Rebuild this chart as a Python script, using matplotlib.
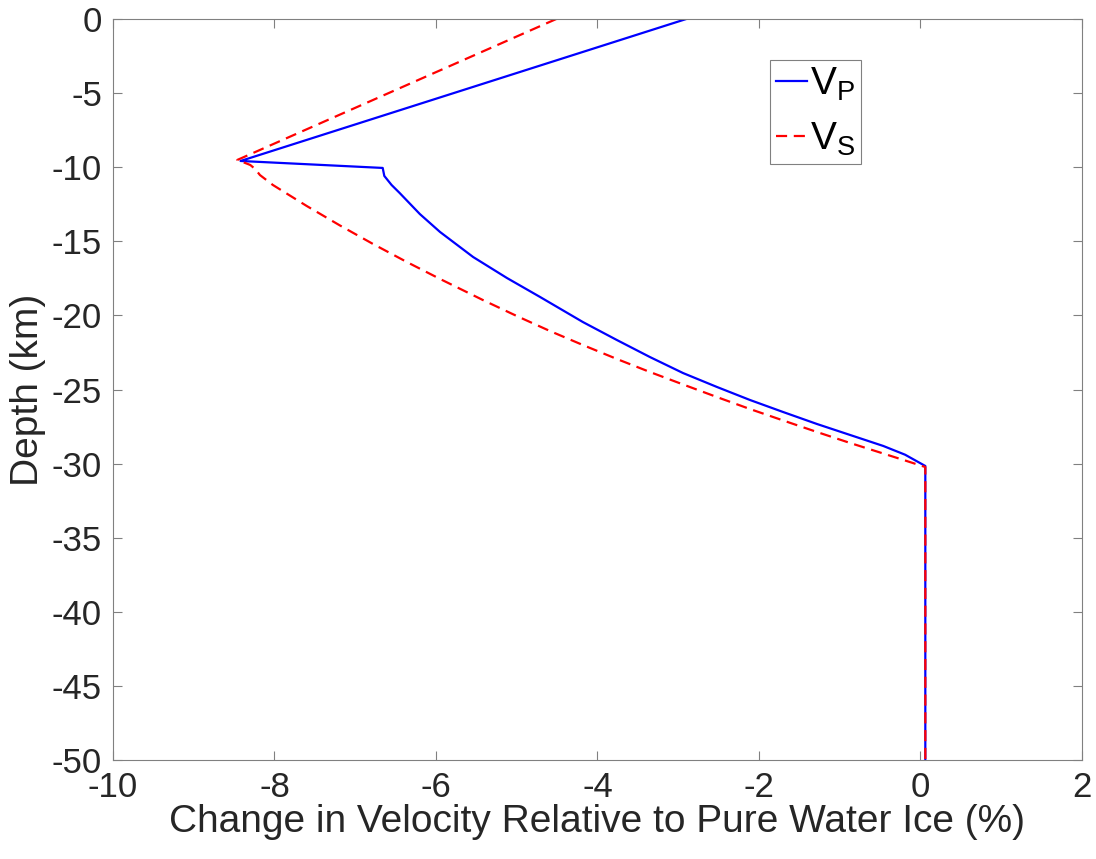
import numpy as np
import matplotlib.pyplot as plt

plt.rcParams['font.family'] = ['Liberation Sans', 'DejaVu Sans']
plt.rcParams['mathtext.fontset'] = 'custom'
plt.rcParams['mathtext.rm'] = 'Liberation Sans'
plt.rcParams['axes.unicode_minus'] = False

# Vp: change (%) vs depth (km)
vp_dv = [-2.90, -8.42, -6.66, -6.64, -6.55, -6.45, -6.20, -5.95, -5.54, -5.12,
         -4.71, -4.18, -3.76, -3.35, -2.94, -2.52, -2.11, -1.70, -1.28, -0.87,
         -0.46, -0.19, 0.06, 0.06]
vp_z = [0.0, -9.58, -10.05, -10.59, -11.20, -11.74, -13.16, -14.37, -16.06, -17.48,
        -18.76, -20.45, -21.66, -22.81, -23.89, -24.83, -25.71, -26.52, -27.33, -28.07,
        -28.81, -29.40, -30.16, -50.0]

# Vs
vs_dv = [-4.51, -8.46, -8.30, -8.24, -8.18, -8.02, -7.60, -7.19, -6.78, -6.36,
         -5.95, -5.42, -5.00, -4.59, -4.18, -3.76, -3.35, -2.94, -2.52, -2.11,
         -1.70, -1.28, -0.87, -0.46, -0.19, 0.06, 0.06]
vs_z = [0.0, -9.51, -9.85, -10.12, -10.53, -11.20, -12.62, -13.93, -15.18, -16.40,
        -17.54, -18.96, -20.04, -21.05, -22.00, -22.94, -23.82, -24.66, -25.51, -26.32,
        -27.09, -27.87, -28.61, -29.32, -29.79, -30.23, -50.0]

fig = plt.figure(figsize=(10.96, 8.59), dpi=100)
ax = fig.add_axes([0.1031, 0.1152, 0.8841, 0.8627])

ax.plot(vp_dv, vp_z, color='#0000ff', lw=1.6, label=r'V$_\mathregular{P}$')
ax.plot(vs_dv, vs_z, color='#ff0000', lw=1.6, ls=(0, (5, 3)), label=r'V$_\mathregular{S}$')

ax.set_xlim(-10, 2)
ax.set_ylim(-50, 0)
ax.set_xticks(np.arange(-10, 3, 2))
ax.set_yticks(np.arange(-50, 1, 5))
ax.tick_params(direction='in', top=True, right=True, length=6.5, width=0.8,
               colors='#808080', labelcolor='#262626', labelsize=25, pad=8)
for s in ax.spines.values():
    s.set_color('#808080')
    s.set_linewidth(0.8)

ax.set_xlabel('Change in Velocity Relative to Pure Water Ice (%)', fontsize=28, color='#262626', labelpad=0)
ax.set_ylabel('Depth (km)', fontsize=28, color='#262626', labelpad=4)

leg = ax.legend(loc='upper left', bbox_to_anchor=(0.678, 0.945), borderaxespad=0,
                fontsize=28, handlelength=0.8, handletextpad=0.08, fancybox=False,
                framealpha=1, borderpad=0.15, labelspacing=0.45)
leg.get_frame().set_edgecolor('#808080')
leg.get_frame().set_linewidth(0.8)

fig.savefig('out.png', dpi=100)
